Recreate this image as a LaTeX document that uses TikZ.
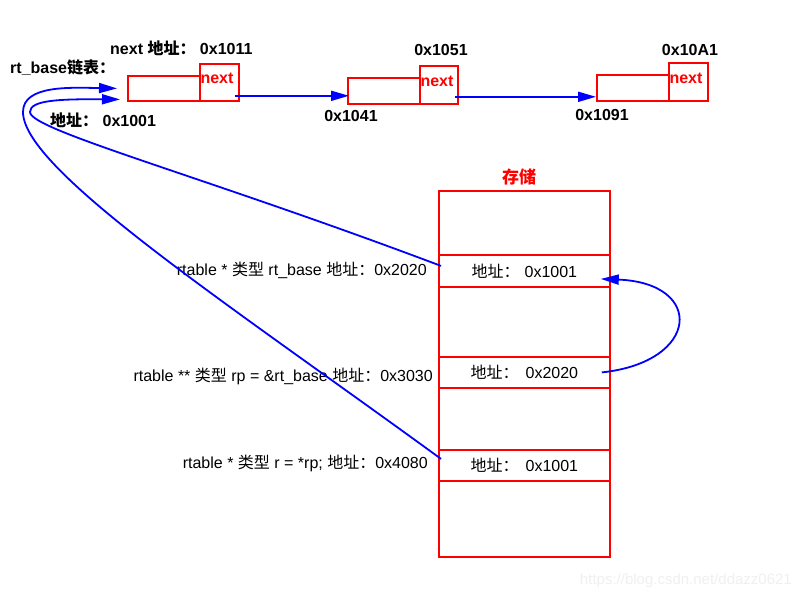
\documentclass[tikz,border=0pt]{standalone}
\usepackage{fontspec}
\setmainfont{Liberation Sans}
\newfontfamily\cjk{Noto Sans CJK SC}
\usetikzlibrary{arrows.meta}
\newcommand\zh[1]{{\cjk\fontsize{16}{18}\selectfont #1}}
\begin{document}
\begin{tikzpicture}[x=1pt,y=-1pt,
  font=\fontsize{16}{18}\selectfont,
  box/.style={draw=red, line width=1.8pt, rectangle, inner sep=0pt, anchor=north west},
  nexttxt/.style={text=red, font=\fontsize{16}{18}\selectfont\bfseries, inner sep=0pt},
  toplbl/.style={font=\fontsize{16}{18}\selectfont\bfseries, inner sep=0pt},
  memlbl/.style={inner sep=0pt, anchor=east},
  link/.style={draw=blue, line width=1.8pt, -{Triangle[length=18pt,width=10pt]}},
]
\useasboundingbox[fill=white] (0,0) rectangle (800,600);

% linked list nodes
\node[box, minimum width=72pt, minimum height=25pt] (n1d) at (127,75) {};
\node[box, minimum width=39pt, minimum height=37pt] (n1n) at (199,63) {};
\node[box, minimum width=72pt, minimum height=26pt] (n2d) at (347,77) {};
\node[box, minimum width=38pt, minimum height=38pt] (n2n) at (419,65) {};
\node[box, minimum width=72pt, minimum height=26pt] (n3d) at (596,74) {};
\node[box, minimum width=39pt, minimum height=38pt] (n3n) at (668,62) {};
\node[nexttxt] (t1) at (217,78) {next};
\node[nexttxt] (t2) at (437,81) {next};
\node[nexttxt] (t3) at (686,78) {next};

% labels of the list
\node[toplbl, anchor=west] (l0) at (10,68) {rt\_base\zh{\bfseries 链表：}};
\node[toplbl, anchor=west] (l1) at (110,48) {next \zh{\bfseries 地址：} 0x1011};
\node[toplbl, anchor=west] (l2) at (50,120) {\zh{\bfseries 地址：} 0x1001};
\node[toplbl] (l3) at (441,50) {0x1051};
\node[toplbl] (l4) at (351,116) {0x1041};
\node[toplbl] (l5) at (690,50) {0x10A1};
\node[toplbl] (l6) at (602,115) {0x1091};

% storage
\node[text=red, inner sep=0pt] (st) at (519,177) {\cjk\fontsize{17}{19}\selectfont\bfseries 存储};
\node[box, minimum width=171pt, minimum height=64pt] (s1) at (438,190) {};
\node[box, minimum width=171pt, minimum height=32pt] (s2) at (438,254) {\zh{地址：}\hspace{5pt}0x1001};
\node[box, minimum width=171pt, minimum height=70pt] (s3) at (438,286) {};
\node[box, minimum width=171pt, minimum height=31pt] (s4) at (438,356) {\zh{地址：}\hspace{7pt}0x2020};
\node[box, minimum width=171pt, minimum height=62pt] (s5) at (438,387) {};
\node[box, minimum width=171pt, minimum height=31pt] (s6) at (438,449) {\zh{地址：}\hspace{7pt}0x1001};
\node[box, minimum width=171pt, minimum height=76pt] (s7) at (438,480) {};

\node[memlbl] (m1) at (427,270) {rtable * \zh{类型} rt\_base \zh{地址：}0x2020};
\node[memlbl] (m2) at (433,376) {rtable ** \zh{类型} rp = \&rt\_base \zh{地址：}0x3030};
\node[memlbl] (m3) at (428,463) {rtable * \zh{类型} r = *rp; \zh{地址：}0x4080};

% list links
\coordinate (a1) at ([shift={(-5pt,6pt)}]n1n.south east);
\coordinate (a2) at ([shift={(-4pt,8pt)}]n2n.south east);
\draw[link] (a1) -- ([xshift=2pt]a1 -| n2d.west);
\draw[link] (a2) -- (a2 -| n3d.west);

% pointer curves
\draw[link] ([shift={(3pt,5pt)}]s2.west) .. controls (200,175) and (30,130) .. (30,112)
  .. controls (30,100) and (60,99) .. ([shift={(-7pt,-11pt)}]n1d.west);
\draw[link] ([shift={(3pt,6.5pt)}]s6.west) .. controls (230,305) and (23,170) .. (23,112)
  .. controls (23,85) and (70,87.5) .. ([xshift=-10pt]n1d.west);
\draw[link] ([xshift=-9pt]s4.east) .. controls (700,362) and (705,283) .. ([shift={(-10pt,-8pt)}]s2.east);

% watermark
\node[text=black!6, anchor=east, inner sep=0pt, font=\fontsize{15}{17}\selectfont] (wm) at (792,581) {https://blog.csdn.net/ddazz0621};
\end{tikzpicture}
\end{document}
